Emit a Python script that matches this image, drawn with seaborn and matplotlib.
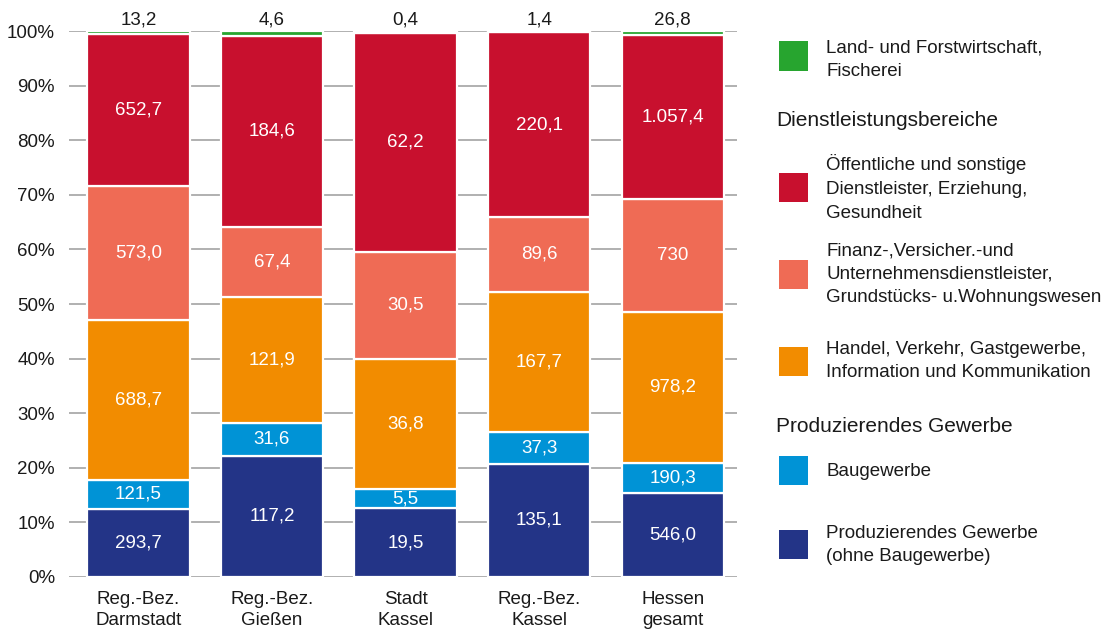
import matplotlib
matplotlib.use('Agg')
import matplotlib.pyplot as plt
from matplotlib.patches import Rectangle
import seaborn as sns
import pandas as pd

# values as printed in the chart (German number format)
regions = ['Reg.-Bez.\nDarmstadt', 'Reg.-Bez.\nGießen', 'Stadt\nKassel', 'Reg.-Bez.\nKassel', 'Hessen\ngesamt']
prod_ohne_bau = ['293,7', '117,2', '19,5', '135,1', '546,0']
baugewerbe = ['121,5', '31,6', '5,5', '37,3', '190,3']
handel = ['688,7', '121,9', '36,8', '167,7', '978,2']
finanz = ['573,0', '67,4', '30,5', '89,6', '730']
oeffentlich = ['652,7', '184,6', '62,2', '220,1', '1.057,4']
landwirtschaft = ['13,2', '4,6', '0,4', '1,4', '26,8']

series = [prod_ohne_bau, baugewerbe, handel, finanz, oeffentlich, landwirtschaft]
colors = ['#233487', '#0093d6', '#f28c00', '#ef6b55', '#c8102e', '#27a52f']


def num(s):
    return float(s.replace('.', '').replace(',', '.'))


df = pd.DataFrame({'region': regions})
for i, s in enumerate(series):
    df['s%d' % i] = [num(v) for v in s]
totals = df[['s%d' % i for i in range(6)]].sum(axis=1)

sns.set_style('white')
plt.rcParams['font.family'] = ['Liberation Sans', 'DejaVu Sans']

fig = plt.figure(figsize=(11.18, 6.31), dpi=100)
ax = fig.add_axes([0.0617, 0.0856, 0.5973, 0.865])

bottom = pd.Series([0.0] * len(regions))
for i, s in enumerate(series):
    share = df['s%d' % i] / totals * 100
    sns.barplot(x=df['region'], y=share, bottom=bottom, color=colors[i], width=0.765,
                edgecolor='white', linewidth=1.6, ax=ax, zorder=3, saturation=1)
    for j in range(len(regions)):
        if i < 5:
            ax.text(j, bottom[j] + share[j] / 2, s[j], color='white', fontsize=13.5,
                    ha='center', va='center', zorder=4)
        else:
            ax.text(j, 100.5, s[j], color='#1a1a1a', fontsize=13.5,
                    ha='center', va='bottom', zorder=4)
    bottom = bottom + share

ax.set_ylim(0, 100)
ax.set_xlim(-0.52, 4.48)
ax.set_yticks(range(0, 101, 10))
ax.set_yticklabels(['%d%%' % v for v in range(0, 101, 10)])
ax.yaxis.grid(True, color='#b0b0b0', linewidth=1.4, zorder=0)
ax.set_axisbelow(True)
for sp in ax.spines.values():
    sp.set_visible(False)
ax.tick_params(axis='both', length=0, labelsize=13.5, labelcolor='#1a1a1a')
ax.tick_params(axis='y', pad=10)
ax.tick_params(axis='x', pad=10)
ax.set_xlabel('')
ax.set_ylabel('')
for lbl in ax.get_xticklabels():
    lbl.set_linespacing(1.35)

# legend drawn by hand (with group headers): text, colour, square centre y, text centre y (pixels)
legend_items = [
    ('Land- und Forstwirtschaft,\nFischerei', colors[5], 56, 60),
    ('Öffentliche und sonstige\nDienstleister, Erziehung,\nGesundheit', colors[4], 187.5, 188),
    ('Finanz-,Versicher.-und\nUnternehmensdienstleister,\nGrundstücks- u.Wohnungswesen', colors[3], 274, 274),
    ('Handel, Verkehr, Gastgewerbe,\nInformation und Kommunikation', colors[2], 361.5, 361),
    ('Baugewerbe', colors[1], 470.5, 472),
    ('Produzierendes Gewerbe\n(ohne Baugewerbe)', colors[0], 544.5, 545),
]
W, H = 1118, 631
for text, col, ys, yt in legend_items:
    fig.add_artist(Rectangle((779 / W, (H - ys - 14.5) / H), 29 / W, 29 / H,
                             transform=fig.transFigure, facecolor=col, edgecolor='none'))
    fig.text(826 / W, (H - yt) / H, text, fontsize=13.5, color='#1a1a1a',
             va='center', ha='left', linespacing=1.5)
for text, yc in [('Dienstleistungsbereiche', 120), ('Produzierendes Gewerbe', 426)]:
    fig.text(776 / W, (H - yc) / H, text, fontsize=15, color='#1a1a1a',
             va='center', ha='left')

fig.savefig('out.png', dpi=100)
